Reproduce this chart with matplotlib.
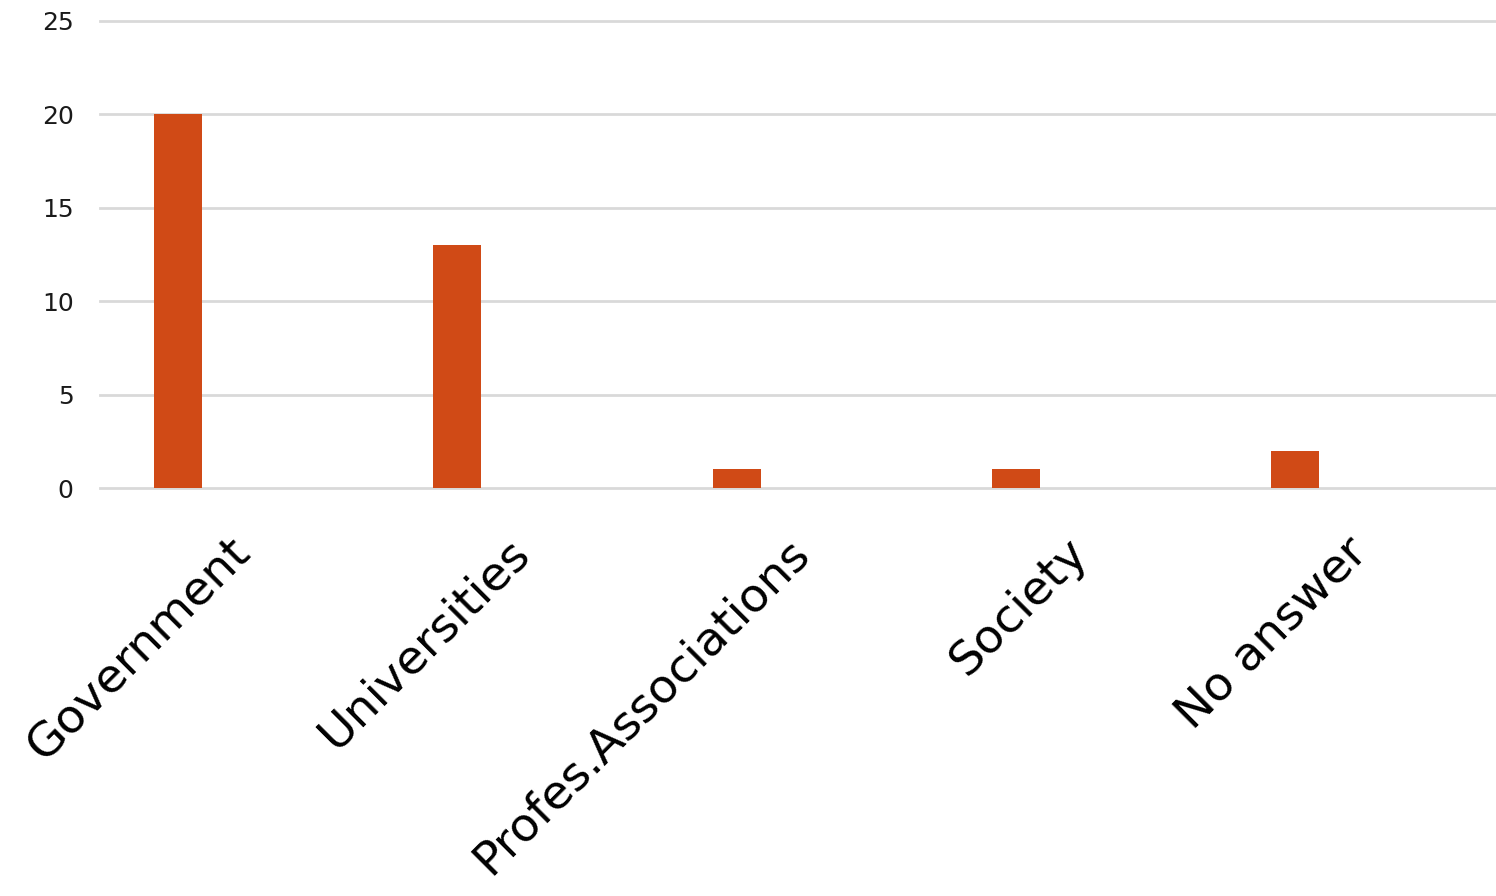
import matplotlib.pyplot as plt
import matplotlib.transforms as mtransforms
import numpy as np

# Data
categories = ['Government', 'Universities', 'Profes.Associations', 'Society', 'No answer']
counts = [20, 13, 1, 1, 2]

plt.rcParams['font.family'] = ['DejaVu Sans']

fig = plt.figure(figsize=(14.96, 8.96), dpi=100)
ax = fig.add_axes([100 / 1496, 1 - 488 / 896, 1 - 100 / 1496, (488 - 21) / 896])

x = np.arange(len(categories))
# bars sit left of the category centre, like a clustered bar chart
ax.bar(x - 0.22, counts, width=0.172, color='#d04a16', zorder=3)

ax.set_xlim(-0.5, len(categories) - 0.5)
ax.set_ylim(0, 25)
ax.set_yticks([0, 5, 10, 15, 20, 25])
ax.yaxis.grid(True, color='#d9d9d9', linewidth=2, zorder=0)
ax.set_axisbelow(True)
for gl in ax.get_ygridlines():
    gl.set_clip_on(False)

for s in ['top', 'right', 'left', 'bottom']:
    ax.spines[s].set_visible(False)

ax.set_xticks(x)
ax.set_xticklabels(categories, rotation=45, ha='right', rotation_mode='anchor',
                   fontsize=34, color='black')
ax.tick_params(axis='x', length=0, pad=30)
ax.tick_params(axis='y', length=0, pad=19, labelsize=18, labelcolor='#1a1a1a')

shift = mtransforms.ScaledTranslation(-12 / 100, 0, fig.dpi_scale_trans)
for lbl in ax.get_xticklabels():
    lbl.set_transform(lbl.get_transform() + shift)

fig.savefig('out.png', dpi=100)
